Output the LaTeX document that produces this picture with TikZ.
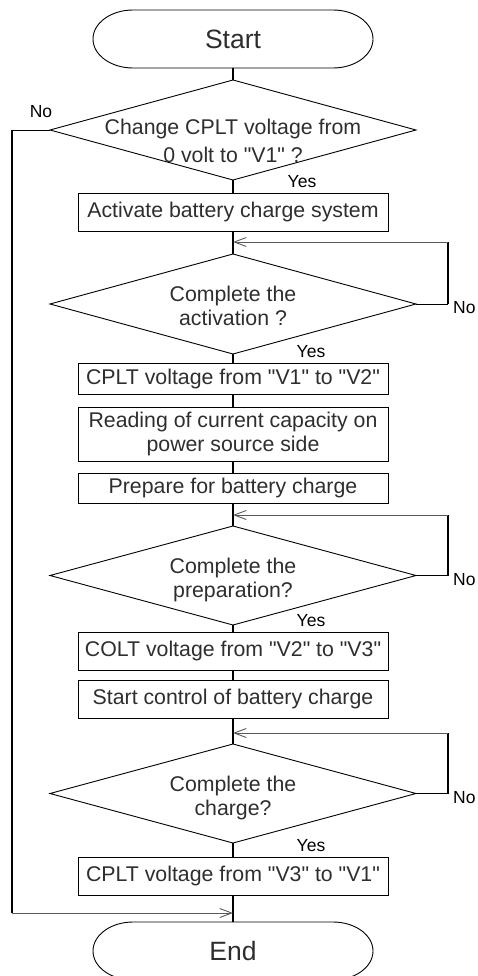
\documentclass[tikz,border=0pt]{standalone}
\usepackage{fontspec}
\newfontfamily\lsans{Liberation Sans}
\usetikzlibrary{shapes.geometric,arrows.meta}
\begin{document}
\begin{tikzpicture}[x=1pt,y=1pt,
  txt/.style={font=\lsans\fontsize{21.3}{24}\selectfont, text=black!82, align=center, inner sep=0pt},
  box/.style={draw, line width=0.9pt, minimum width=310pt, inner sep=0pt, outer sep=0pt, txt},
  dia/.style={draw, diamond, line width=0.9pt, minimum width=366pt, minimum height=100pt, inner sep=0pt, outer sep=0pt},
  term/.style={minimum width=280pt, minimum height=58pt, inner sep=0pt, outer sep=0pt, font=\lsans\fontsize{26.5}{30}\selectfont, text=black!82},
  termline/.style={line width=0.9pt},
  lbl/.style={font=\lsans\fontsize{17.5}{20}\selectfont, inner sep=0pt},
  conn/.style={line width=1.8pt},
  thinl/.style={line width=0.9pt},
  fb/.style={line width=0.9pt, draw=black!65, -{Straight Barb[length=12pt,width=9pt,line width=0.9pt]}},
]
\useasboundingbox (0,0) rectangle (478,-976);
\clip (0,0) rectangle (478,-976);

% nodes
\node[term] (start) at (233,-39) {Start};
\draw[termline] ([xshift=40pt]start.north west) -- ([xshift=-40pt]start.north east)
  arc[start angle=90, end angle=-90, x radius=40pt, y radius=29pt]
  -- ([xshift=40pt]start.south west)
  arc[start angle=270, end angle=90, x radius=40pt, y radius=29pt] -- cycle;
\node[dia] (d1) at (233,-130) {};
\node[txt, font=\lsans\fontsize{21.3}{28}\selectfont] (d1t) at (233,-141) {Change CPLT voltage from\\0 volt to "V1" ?};
\node[box, minimum height=38pt] (b1) at (233,-212) {Activate battery charge system};
\node[dia] (d2) at (233,-304) {};
\node[txt] (d2t) at (233,-306) {Complete the\\activation ?};
\node[box, minimum height=31pt] (b2) at (233,-378.5) {CPLT voltage from "V1" to "V2"};
\node[box, minimum height=54pt] (b3) at (233,-434) {Reading of current capacity on\\power source side};
\node[box, minimum height=30pt] (b4) at (233,-488) {Prepare for battery charge};
\node[dia, minimum height=99pt] (d3) at (233,-575.5) {};
\node[txt] (d3t) at (233,-580) {Complete the\\preparation?};
\node[box, minimum height=38pt] (b5) at (233,-651) {COLT voltage from "V2" to "V3"};
\node[box, minimum height=38pt] (b6) at (233,-699) {Start control of battery charge};
\node[dia, minimum height=99pt] (d4) at (233,-793.5) {};
\node[txt] (d4t) at (233,-798) {Complete the\\charge?};
\node[box, minimum height=38pt] (b7) at (233,-876) {CPLT voltage from "V3" to "V1"};
\node[term] (end) at (233,-951) {End};
\draw[termline] ([xshift=40pt]end.north west) -- ([xshift=-40pt]end.north east)
  arc[start angle=90, end angle=-90, x radius=40pt, y radius=29pt]
  -- ([xshift=40pt]end.south west)
  arc[start angle=270, end angle=90, x radius=40pt, y radius=29pt] -- cycle;

% main connectors
\draw[conn] (start.south) -- (d1.north);
\draw[conn] (d1.south) -- (b1.north);
\draw[conn] (b1.south) -- (d2.north);
\draw[conn] (d2.south) -- (b2.north);
\draw[conn] (b2.south) -- (b3.north);
\draw[conn] (b3.south) -- (b4.north);
\draw[conn] (b4.south) -- (d3.north);
\draw[conn] (d3.south) -- (b5.north);
\draw[conn] (b5.south) -- (b6.north);
\draw[conn] (b6.south) -- (d4.north);
\draw[conn] (d4.south) -- (b7.north);
\draw[conn] (b7.south) -- (end.north);

% feedback loops
\coordinate (f2) at (233,-242);
\coordinate (c2) at (448,-242);
\draw[thinl] (d2.east) -- (d2.east -| c2);
\draw[conn] (d2.east -| c2) -- (c2);
\draw[fb] (c2) -- (f2);

\coordinate (f3) at (233,-515);
\coordinate (c3) at (448,-515);
\draw[thinl] (d3.east) -- (d3.east -| c3);
\draw[conn] (d3.east -| c3) -- (c3);
\draw[fb] (c3) -- (f3);

\coordinate (f4) at (233,-733);
\coordinate (c4) at (448,-733);
\draw[thinl] (d4.east) -- (d4.east -| c4);
\draw[conn] (d4.east -| c4) -- (c4);
\draw[fb] (c4) -- (f4);

% left No loop
\coordinate (l1) at (12,-130);
\coordinate (l2) at (12,-913);
\coordinate (fe) at (233,-913);
\draw[thinl] (d1.west) -- (l1);
\draw[conn] (l1) -- (l2);
\draw[fb] (l2) -- (fe);

% labels
\node[lbl] at (41,-112) {No};
\node[lbl] at (302,-182) {Yes};
\node[lbl, anchor=west] at (453,-308) {No};
\node[lbl] at (311,-352) {Yes};
\node[lbl, anchor=west] at (453,-580) {No};
\node[lbl] at (311,-621) {Yes};
\node[lbl, anchor=west] at (453,-798) {No};
\node[lbl] at (311,-846) {Yes};
\end{tikzpicture}
\end{document}
